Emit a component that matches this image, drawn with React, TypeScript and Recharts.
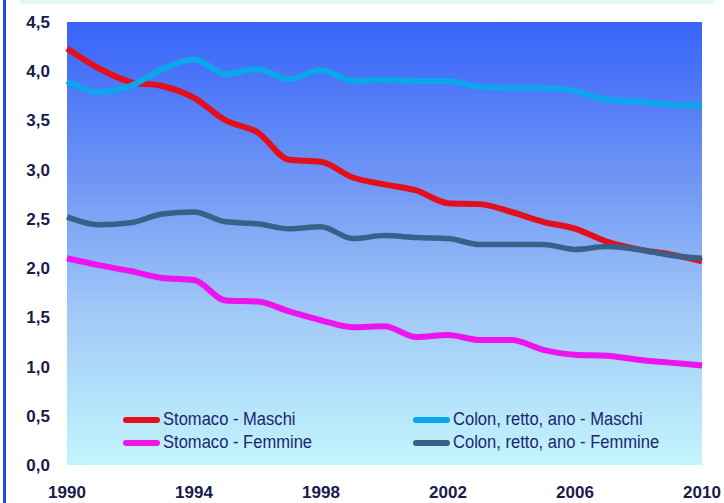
import { LineChart, Line, XAxis, YAxis, CartesianGrid, Legend } from "recharts";

const YEARS = [
  1990, 1991, 1992, 1993, 1994, 1995, 1996, 1997, 1998, 1999, 2000,
  2001, 2002, 2003, 2004, 2005, 2006, 2007, 2008, 2009, 2010,
];

// tassi
const STOMACO_M = [4.23, 4.03, 3.89, 3.85, 3.73, 3.5, 3.38, 3.1, 3.08, 2.92, 2.85, 2.79, 2.66, 2.65, 2.57, 2.47, 2.4, 2.27, 2.19, 2.14, 2.07];
const STOMACO_F = [2.1, 2.03, 1.97, 1.9, 1.88, 1.67, 1.66, 1.56, 1.47, 1.4, 1.41, 1.3, 1.32, 1.27, 1.27, 1.17, 1.12, 1.11, 1.07, 1.04, 1.01];
const COLON_M = [3.9, 3.79, 3.85, 4.02, 4.12, 3.97, 4.02, 3.92, 4.01, 3.9, 3.91, 3.9, 3.9, 3.84, 3.83, 3.83, 3.8, 3.71, 3.69, 3.66, 3.65];
const COLON_F = [2.52, 2.44, 2.46, 2.55, 2.57, 2.47, 2.45, 2.4, 2.42, 2.3, 2.33, 2.31, 2.3, 2.24, 2.24, 2.24, 2.19, 2.22, 2.19, 2.13, 2.1];

const X_TICKS = [1990, 1994, 1998, 2002, 2006, 2010];
const Y_TICKS = [0, 0.5, 1, 1.5, 2, 2.5, 3, 3.5, 4, 4.5];

// ordine della legenda: prima colonna stomaco, seconda colon
const LEGEND_ORDER = [
  "Stomaco - Maschi",
  "Stomaco - Femmine",
  "Colon, retto, ano - Maschi",
  "Colon, retto, ano - Femmine",
];

const COLOURS = {
  stomacoM: "#e3101c",
  stomacoF: "#ee14ee",
  colonM: "#0ba6ec",
  colonF: "#386088",
};

const TEXT = "#1a1a4e";
const SANS = '"Liberation Sans", Arial, sans-serif';

const fmt = (v: number) => v.toFixed(1).replace(".", ",");

function ChartLegend({ payload }: { payload?: Array<{ value: string; color: string }> }) {
  if (!payload?.length) return null;
  const items = [...payload].sort((a, b) => LEGEND_ORDER.indexOf(a.value) - LEGEND_ORDER.indexOf(b.value));
  return (
    <div
      style={{
        position: "absolute",
        left: 123,
        top: 408,
        display: "grid",
        gridTemplateColumns: "290px auto",
        gridTemplateRows: "23px 23px",
        gridAutoFlow: "column",
        fontFamily: SANS,
        fontSize: 18,
        color: "#1d2570",
        whiteSpace: "nowrap",
      }}
    >
      {items.map((p) => (
        <div key={p.value} style={{ display: "flex", alignItems: "center" }}>
          <span style={{ display: "inline-block", width: 37, height: 6, borderRadius: 3, background: p.color, marginRight: 3 }} />
          <span style={{ display: "inline-block", transform: "scaleX(0.92)", transformOrigin: "left center" }}>{p.value}</span>
        </div>
      ))}
    </div>
  );
}

export default function App() {
  const data = YEARS.map((year, i) => ({
    year,
    stomacoM: STOMACO_M[i],
    stomacoF: STOMACO_F[i],
    colonM: COLON_M[i],
    colonF: COLON_F[i],
  }));

  return (
    <div style={{ position: "relative", width: 724, height: 503, background: "#fff", overflow: "hidden" }}>
      <style>{"body{margin:0}"}</style>
      <div style={{ position: "absolute", left: 20, top: 0, width: 693, height: 4, background: "#e2f8ef" }} />
      <div style={{ position: "absolute", left: 3, top: 0, width: 3, height: 503, background: "#2746e0" }} />
      <LineChart width={724} height={503} data={data} margin={{ top: 22, right: 22, left: 0, bottom: 0 }}>
        <defs>
          <linearGradient id="plot-bg" x1="0" y1="0" x2="0" y2="1">
            <stop offset="0%" stopColor="#3763fa" />
            <stop offset="35%" stopColor="#6e95f4" />
            <stop offset="65%" stopColor="#a0c8f7" />
            <stop offset="100%" stopColor="#c3f5fc" />
          </linearGradient>
        </defs>
        <CartesianGrid fill="url(#plot-bg)" horizontal={false} vertical={false} stroke="none" />
        <XAxis
          dataKey="year"
          type="number"
          domain={[1990, 2010]}
          ticks={X_TICKS}
          interval={0}
          axisLine={false}
          tickLine={false}
          tickSize={0}
          tickMargin={21}
          height={38}
          tick={{ fontSize: 17, fontWeight: 700, fill: TEXT, fontFamily: SANS }}
        />
        <YAxis
          type="number"
          domain={[0, 4.5]}
          ticks={Y_TICKS}
          interval={0}
          tickFormatter={fmt}
          axisLine={false}
          tickLine={false}
          tickSize={0}
          tickMargin={17}
          width={67}
          tick={{ fontSize: 17, fontWeight: 700, fill: TEXT, fontFamily: SANS }}
        />
        <Legend content={<ChartLegend />} wrapperStyle={{ left: 0, top: 0, width: 0, height: 0 }} />
        <Line type="monotone" dataKey="stomacoM" name="Stomaco - Maschi" stroke={COLOURS.stomacoM} strokeWidth={6} dot={false} isAnimationActive={false} />
        <Line type="monotone" dataKey="stomacoF" name="Stomaco - Femmine" stroke={COLOURS.stomacoF} strokeWidth={6} dot={false} isAnimationActive={false} />
        <Line type="monotone" dataKey="colonM" name="Colon, retto, ano - Maschi" stroke={COLOURS.colonM} strokeWidth={6} dot={false} isAnimationActive={false} />
        <Line type="monotone" dataKey="colonF" name="Colon, retto, ano - Femmine" stroke={COLOURS.colonF} strokeWidth={5.5} dot={false} isAnimationActive={false} />
      </LineChart>
    </div>
  );
}
